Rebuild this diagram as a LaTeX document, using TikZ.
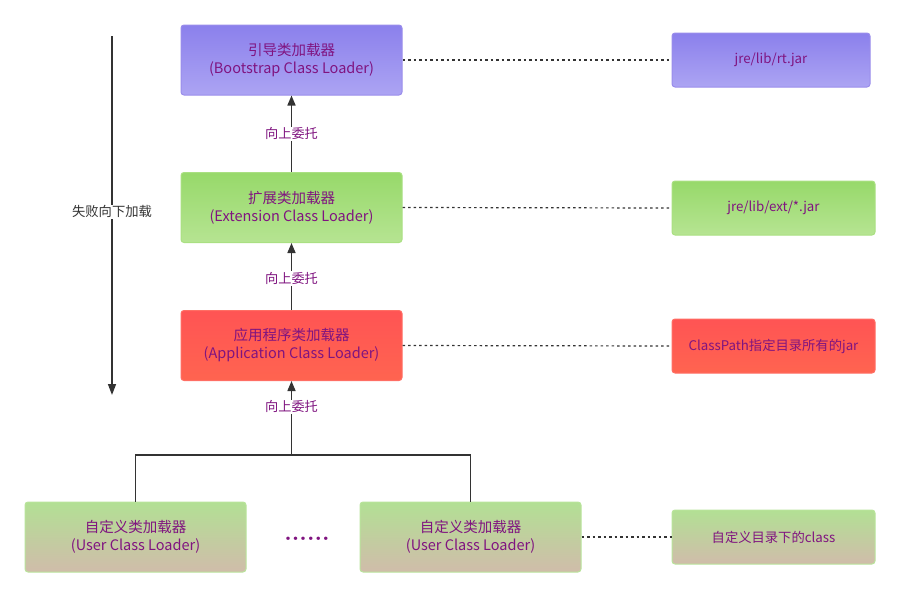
\documentclass[tikz,border=0pt]{standalone}
\usepackage{fontspec}
\usepackage{tikz}
\usetikzlibrary{arrows.meta}
\newfontfamily\cjk{Noto Sans CJK SC}
\tikzset{every picture/.style={line width=0.75pt}}
\definecolor{txtpurple}{RGB}{128,20,128}
\definecolor{lnk}{RGB}{51,51,51}
\tikzset{
  loaderbox/.style={draw, rounded corners=3pt, minimum width=221pt, minimum height=70pt,
    align=center, text=txtpurple, font=\cjk\fontsize{14.5}{18}\selectfont, line width=1pt},
  jarbox/.style={draw, rounded corners=3pt, minimum width=203pt, minimum height=54pt,
    align=center, text=txtpurple, font=\cjk\fontsize{13.3}{15}\selectfont, line width=1pt},
  bootfill/.style={top color={rgb,255:red,139;green,128;blue,236}, bottom color={rgb,255:red,172;green,164;blue,243}, draw={rgb,255:red,154;green,141;blue,235}},
  extfill/.style={top color={rgb,255:red,151;green,217;blue,106}, bottom color={rgb,255:red,182;green,228;blue,146}, draw={rgb,255:red,170;green,224;blue,130}},
  appfill/.style={top color={rgb,255:red,255;green,84;blue,84}, bottom color={rgb,255:red,255;green,100;blue,80}, draw={rgb,255:red,255;green,110;blue,100}},
  userfill/.style={top color={rgb,255:red,178;green,224;blue,148}, bottom color={rgb,255:red,208;green,188;blue,170}, draw={rgb,255:red,185;green,228;blue,155}},
  upline/.style={draw=lnk, line width=1.5pt, -{Triangle[length=10pt,width=8pt]}},
  dotline/.style={draw=lnk, line width=1.2pt, dash pattern=on 2.5pt off 3pt},
  edgetxt/.style={fill=white, inner sep=1pt, text=txtpurple, font=\cjk\fontsize{13.2}{15}\selectfont}
}
\begin{document}
\begin{tikzpicture}[x=1pt,y=1pt,yscale=-1,xscale=1]
		\useasboundingbox (0,0) rectangle (900,597);
		
		%Loaders
		\node [loaderbox, bootfill] (boot) at (291.5,60) {引导类加载器\\(Bootstrap Class Loader)};
		\node [loaderbox, extfill] (ext) at (291.5,207.5) {扩展类加载器\\(Extension Class Loader)};
		\node [loaderbox, appfill] (app) at (291.5,345.5) {应用程序类加载器\\(Application Class Loader)};
		\node [loaderbox, userfill] (userA) at (135.5,537) {自定义类加载器\\(User Class Loader)};
		\node [loaderbox, userfill] (userB) at (470.5,537) {自定义类加载器\\(User Class Loader)};
		
		%Jar paths
		\node [jarbox, bootfill, minimum width=198pt] (rtjar) at (771,60) {jre/lib/rt.jar};
		\node [jarbox, extfill] (extjar) at (773.5,208) {jre/lib/ext/*.jar};
		\node [jarbox, appfill] (cpjar) at (773.5,346) {ClassPath指定目录所有的jar};
		\node [jarbox, userfill] (userjar) at (773.5,537) {自定义目录下的class};
		
		% dots between user loaders
		\node [text=txtpurple, font=\bfseries\fontsize{24}{24}\selectfont] (dots) at (307,539) {......};
		
		%Delegation arrows
		\draw [upline] (ext.north) -- node [edgetxt] {向上委托} (boot.south);
		\draw [upline] (app.north) -- node [edgetxt, pos=0.47] {向上委托} (ext.south);
		\coordinate (join) at (291.5,455);
		\draw [upline] (join) -- node [edgetxt, pos=0.65] {向上委托} (app.south);
		\draw [draw=lnk, line width=1.2pt] (userA.north) |- (join) -| (userB.north);
		
		%Dotted links
		\draw [dotline] (boot.east) -- (rtjar.west);
		\draw [dotline] (ext.east) -- (extjar.west);
		\draw [dotline] (app.east) -- (cpjar.west);
		\draw [dotline] (userB.east) -- (userjar.west);
		
		%Fail downwards
		\coordinate (failtop) at (112,36);
		\coordinate (failbot) at (112,395);
		\draw [draw=lnk, line width=1.5pt, -{Triangle[length=11pt,width=8pt]}] (failtop) -- node [fill=white, inner sep=1pt, text=lnk, font=\cjk\fontsize{13.3}{15}\selectfont, pos=0.49] {失败向下加载} (failbot);
		
	\end{tikzpicture}
\end{document}
